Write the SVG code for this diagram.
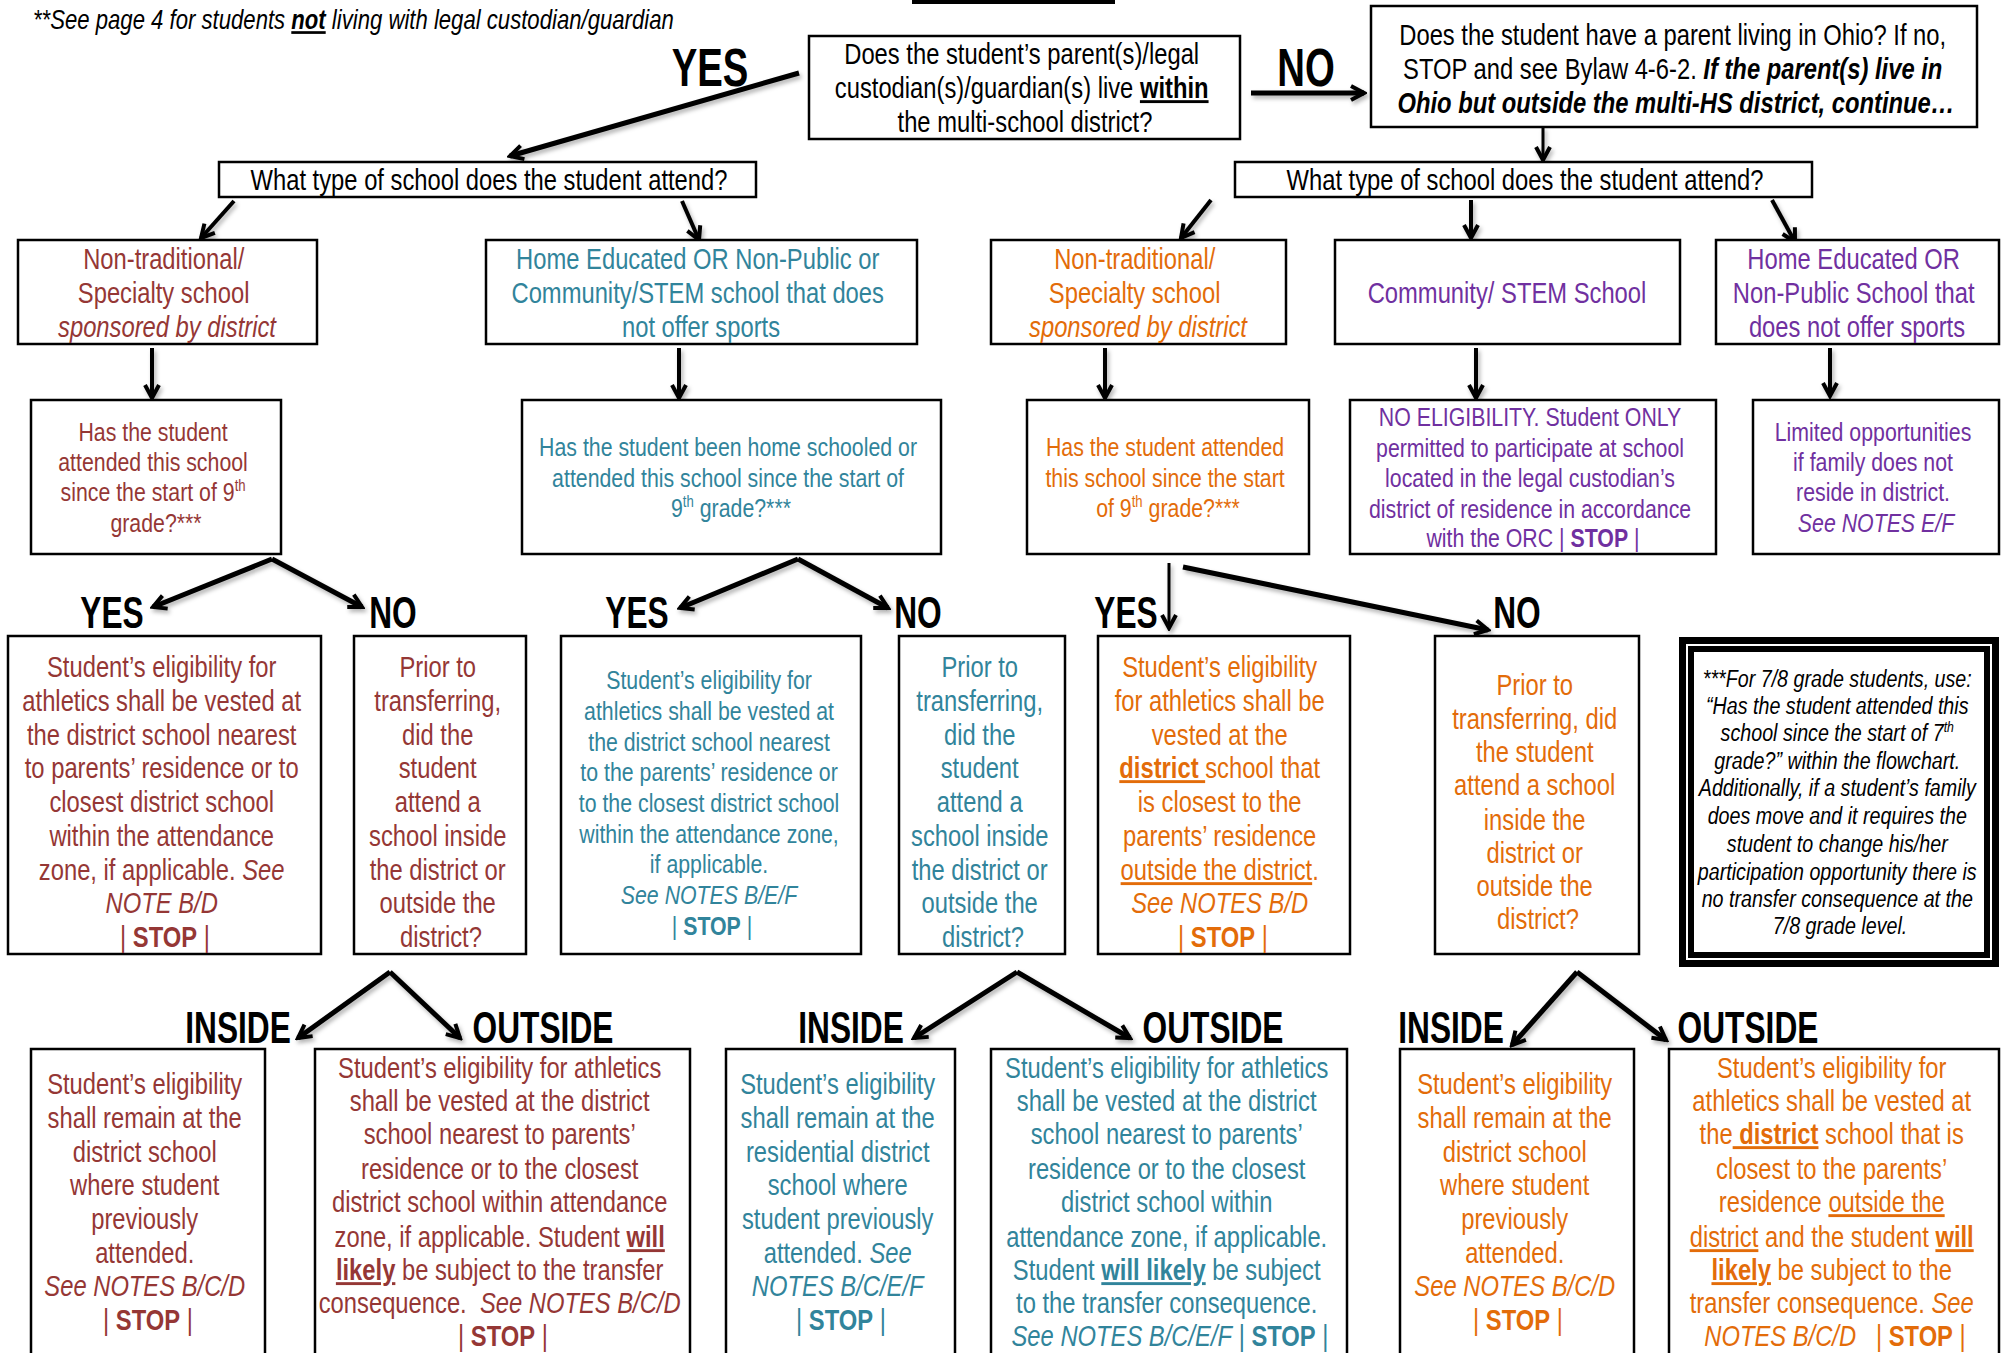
<svg xmlns="http://www.w3.org/2000/svg" width="2005" height="1353" viewBox="0 0 2005 1353">
<style>
.box{fill:#fff;stroke:#000;stroke-width:2.5}
.t{font-family:"Liberation Sans",Arial,sans-serif;font-size:29px;text-anchor:middle}
.s26{font-size:26px}
.s24{font-size:24px}
.m{fill:#953735}.tl{fill:#31849B}.o{fill:#E36C09}.p{fill:#7030A0}.k{fill:#000}
.i{font-style:italic}.b{font-weight:bold}.u{text-decoration:underline}
.lbl{font-family:"Liberation Sans",Arial,sans-serif;font-weight:bold;font-size:44px;text-anchor:middle;fill:#000}
.big{font-size:54px}
.arr{stroke:#000;stroke-width:4;fill:none;marker-end:url(#ah)}
.w5{stroke-width:5}
.w3{stroke-width:3}
</style>
<defs>
<marker id="ah" markerUnits="userSpaceOnUse" viewBox="0 0 20 20" markerWidth="20" markerHeight="20" refX="17" refY="10" orient="auto">
<path d="M4,3 L17,10 L4,17" fill="none" stroke="#000" stroke-width="4" stroke-linejoin="miter"/>
</marker>
<filter id="sh" x="-20%" y="-20%" width="140%" height="140%">
<feDropShadow dx="2" dy="3" stdDeviation="2" flood-color="#000" flood-opacity="0.3"/>
</filter>
</defs>
<rect width="2005" height="1353" fill="#fff"/>
<rect x="912" y="0" width="203" height="4" fill="#000"/>
<text class="t i k" style="text-anchor:start;font-size:27px" transform="translate(33 0) scale(0.82 1)"><tspan x="0" y="29">**See page 4 for students <tspan class="b u">not</tspan> living with legal custodian/guardian</tspan></text>

<g id="connectors" filter="url(#sh)">
<path class="arr w5" d="M799,73 L510,156"/>
<path class="arr w5" d="M1251,93 L1364,93"/>
<path class="arr w3" d="M1543,127 L1543,160"/>
<path class="arr" d="M234,201 L201,238"/>
<path class="arr" d="M682,201 L699,240"/>
<path class="arr" d="M1211,200 L1181,238"/>
<path class="arr" d="M1471,200 L1471,238"/>
<path class="arr" d="M1772,200 L1795,242"/>
<path class="arr" d="M152,348 L152,398"/>
<path class="arr" d="M679,348 L679,398"/>
<path class="arr" d="M1105,348 L1105,398"/>
<path class="arr" d="M1476,348 L1476,398"/>
<path class="arr" d="M1830,348 L1830,396"/>
<path class="arr w5" d="M272,559 L153,607"/>
<path class="arr w5" d="M272,559 L362,607"/>
<path class="arr w5" d="M798,559 L680,608"/>
<path class="arr w5" d="M798,559 L888,608"/>
<path class="arr w3" d="M1169,563 L1169,628"/>
<path class="arr w5" d="M1183,567 L1488,630"/>
<path class="arr w5" d="M390,972 L298,1038"/>
<path class="arr w5" d="M390,972 L460,1038"/>
<path class="arr w5" d="M1017,972 L914,1038"/>
<path class="arr w5" d="M1017,972 L1130,1038"/>
<path class="arr w5" d="M1577,972 L1512,1045"/>
<path class="arr w5" d="M1577,972 L1666,1040"/>
</g>

<g id="labels">
<text class="lbl big" transform="translate(710 0) scale(0.71 1)"><tspan x="0" y="86">YES</tspan></text>
<text class="lbl big" transform="translate(1306 0) scale(0.71 1)"><tspan x="0" y="86">NO</tspan></text>
<text class="lbl" transform="translate(112 0) scale(0.72 1)"><tspan x="0" y="628">YES</tspan></text>
<text class="lbl" transform="translate(393 0) scale(0.72 1)"><tspan x="0" y="628">NO</tspan></text>
<text class="lbl" transform="translate(637 0) scale(0.72 1)"><tspan x="0" y="628">YES</tspan></text>
<text class="lbl" transform="translate(918 0) scale(0.72 1)"><tspan x="0" y="628">NO</tspan></text>
<text class="lbl" transform="translate(1126 0) scale(0.72 1)"><tspan x="0" y="628">YES</tspan></text>
<text class="lbl" transform="translate(1517 0) scale(0.72 1)"><tspan x="0" y="628">NO</tspan></text>
<text class="lbl" transform="translate(238 0) scale(0.72 1)"><tspan x="0" y="1043">INSIDE</tspan></text>
<text class="lbl" transform="translate(543 0) scale(0.72 1)"><tspan x="0" y="1043">OUTSIDE</tspan></text>
<text class="lbl" transform="translate(851 0) scale(0.72 1)"><tspan x="0" y="1043">INSIDE</tspan></text>
<text class="lbl" transform="translate(1213 0) scale(0.72 1)"><tspan x="0" y="1043">OUTSIDE</tspan></text>
<text class="lbl" transform="translate(1451 0) scale(0.72 1)"><tspan x="0" y="1043">INSIDE</tspan></text>
<text class="lbl" transform="translate(1748 0) scale(0.72 1)"><tspan x="0" y="1043">OUTSIDE</tspan></text>
</g>

<g id="q1">
<rect class="box" x="809" y="36" width="431" height="103"/>
<text class="t k" transform="translate(1025 0) scale(0.82 1)">
<tspan x="0" y="64">Does the student’s parent(s)/legal</tspan>
<tspan x="0" y="98">custodian(s)/guardian(s) live <tspan class="b u">within</tspan></tspan>
<tspan x="0" y="132">the multi-school district?</tspan>
</text>
</g>

<g id="q2">
<rect class="box" x="1371" y="6" width="606" height="121"/>
<text class="t k" transform="translate(1676 0) scale(0.82 1)">
<tspan x="0" y="45">Does the student have a parent living in Ohio? If no,</tspan>
<tspan x="0" y="79">STOP and see Bylaw 4-6-2. <tspan class="b i">If the parent(s) live in</tspan></tspan>
<tspan x="0" y="113" class="b i">Ohio but outside the multi-HS district, continue…</tspan>
</text>
</g>

<g id="wt-left">
<rect class="box" x="219" y="162" width="537" height="35"/>
<text class="t k" transform="translate(489 0) scale(0.82 1)"><tspan x="0" y="190">What type of school does the student attend?</tspan></text>
</g>
<g id="wt-right">
<rect class="box" x="1235" y="162" width="577" height="35"/>
<text class="t k" transform="translate(1525 0) scale(0.82 1)"><tspan x="0" y="190">What type of school does the student attend?</tspan></text>
</g>

<g id="a1">
<rect class="box" x="18" y="240" width="299" height="104"/>
<text class="t m" transform="translate(167 0) scale(0.82 1)">
<tspan x="0" y="269">Non-traditional/</tspan>
<tspan x="0" y="303">Specialty school</tspan>
<tspan x="0" y="337" class="i">sponsored by district</tspan>
</text>
</g>
<g id="a2">
<rect class="box" x="486" y="240" width="431" height="104"/>
<text class="t tl" transform="translate(701 0) scale(0.82 1)">
<tspan x="0" y="269">Home Educated OR Non-Public or</tspan>
<tspan x="0" y="303">Community/STEM school that does</tspan>
<tspan x="0" y="337">not offer sports</tspan>
</text>
</g>
<g id="a3">
<rect class="box" x="991" y="240" width="295" height="104"/>
<text class="t o" transform="translate(1138 0) scale(0.82 1)">
<tspan x="0" y="269">Non-traditional/</tspan>
<tspan x="0" y="303">Specialty school</tspan>
<tspan x="0" y="337" class="i">sponsored by district</tspan>
</text>
</g>
<g id="a4">
<rect class="box" x="1335" y="240" width="345" height="104"/>
<text class="t p" transform="translate(1507 0) scale(0.82 1)"><tspan x="0" y="303">Community/ STEM School</tspan></text>
</g>
<g id="a5">
<rect class="box" x="1716" y="240" width="283" height="104"/>
<text class="t p" transform="translate(1857 0) scale(0.82 1)">
<tspan x="0" y="269">Home Educated OR</tspan>
<tspan x="0" y="303">Non-Public School that</tspan>
<tspan x="0" y="337">does not offer sports</tspan>
</text>
</g>

<g id="b1">
<rect class="box" x="31" y="400" width="250" height="154"/>
<text class="t s26 m" transform="translate(156 0) scale(0.82 1)">
<tspan x="0" y="441">Has the student</tspan>
<tspan x="0" y="471">attended this school</tspan>
<tspan x="0" y="501">since the start of 9<tspan font-size="16" dy="-10">th</tspan></tspan>
<tspan x="0" y="532">grade?***</tspan>
</text>
</g>
<g id="b2">
<rect class="box" x="522" y="400" width="419" height="154"/>
<text class="t s26 tl" transform="translate(731 0) scale(0.82 1)">
<tspan x="0" y="456">Has the student been home schooled or</tspan>
<tspan x="0" y="487">attended this school since the start of</tspan>
<tspan x="0" y="517">9<tspan font-size="16" dy="-10">th</tspan><tspan dy="10"> grade?***</tspan></tspan>
</text>
</g>
<g id="b3">
<rect class="box" x="1027" y="400" width="282" height="154"/>
<text class="t s26 o" transform="translate(1168 0) scale(0.82 1)">
<tspan x="0" y="456">Has the student attended</tspan>
<tspan x="0" y="487">this school since the start</tspan>
<tspan x="0" y="517">of 9<tspan font-size="16" dy="-10">th</tspan><tspan dy="10"> grade?***</tspan></tspan>
</text>
</g>
<g id="b4">
<rect class="box" x="1350" y="400" width="366" height="154"/>
<text class="t s26 p" transform="translate(1533 0) scale(0.82 1)">
<tspan x="0" y="426">NO ELIGIBILITY. Student ONLY</tspan>
<tspan x="0" y="457">permitted to participate at school</tspan>
<tspan x="0" y="487">located in the legal custodian’s</tspan>
<tspan x="0" y="518">district of residence in accordance</tspan>
<tspan x="0" y="547">with the ORC | <tspan class="b">STOP</tspan> |</tspan>
</text>
</g>
<g id="b5">
<rect class="box" x="1753" y="400" width="246" height="154"/>
<text class="t s26 p" transform="translate(1876 0) scale(0.82 1)">
<tspan x="0" y="441">Limited opportunities</tspan>
<tspan x="0" y="471">if family does not</tspan>
<tspan x="0" y="501">reside in district.</tspan>
<tspan x="0" y="532" class="i">See NOTES E/F</tspan>
</text>
</g>

<g id="c1">
<rect class="box" x="8" y="636" width="313" height="318"/>
<text class="t m" transform="translate(165 0) scale(0.82 1)">
<tspan x="0" y="677">Student’s eligibility for</tspan>
<tspan x="0" y="711">athletics shall be vested at</tspan>
<tspan x="0" y="745">the district school nearest</tspan>
<tspan x="0" y="778">to parents’ residence or to</tspan>
<tspan x="0" y="812">closest district school</tspan>
<tspan x="0" y="846">within the attendance</tspan>
<tspan x="0" y="880">zone, if applicable. <tspan class="i">See</tspan></tspan>
<tspan x="0" y="913" class="i">NOTE B/D</tspan>
<tspan x="0" y="947">| <tspan class="b">STOP</tspan> |</tspan>
</text>
</g>
<g id="c2">
<rect class="box" x="354" y="636" width="172" height="318"/>
<text class="t m" transform="translate(441 0) scale(0.82 1)">
<tspan x="0" y="677">Prior to</tspan>
<tspan x="0" y="711">transferring,</tspan>
<tspan x="0" y="745">did the</tspan>
<tspan x="0" y="778">student</tspan>
<tspan x="0" y="812">attend a</tspan>
<tspan x="0" y="846">school inside</tspan>
<tspan x="0" y="880">the district or</tspan>
<tspan x="0" y="913">outside the</tspan>
<tspan x="0" y="947">district?</tspan>
</text>
</g>
<g id="c3">
<rect class="box" x="561" y="636" width="300" height="318"/>
<text class="t s26 tl" transform="translate(712 0) scale(0.82 1)">
<tspan x="0" y="689">Student’s eligibility for</tspan>
<tspan x="0" y="720">athletics shall be vested at</tspan>
<tspan x="0" y="751">the district school nearest</tspan>
<tspan x="0" y="781">to the parents’ residence or</tspan>
<tspan x="0" y="812">to the closest district school</tspan>
<tspan x="0" y="843">within the attendance zone,</tspan>
<tspan x="0" y="873">if applicable.</tspan>
<tspan x="0" y="904" class="i">See NOTES B/E/F</tspan>
<tspan x="0" y="935">| <tspan class="b">STOP</tspan> |</tspan>
</text>
</g>
<g id="c4">
<rect class="box" x="899" y="636" width="166" height="318"/>
<text class="t tl" transform="translate(983 0) scale(0.82 1)">
<tspan x="0" y="677">Prior to</tspan>
<tspan x="0" y="711">transferring,</tspan>
<tspan x="0" y="745">did the</tspan>
<tspan x="0" y="778">student</tspan>
<tspan x="0" y="812">attend a</tspan>
<tspan x="0" y="846">school inside</tspan>
<tspan x="0" y="880">the district or</tspan>
<tspan x="0" y="913">outside the</tspan>
<tspan x="0" y="947">district?</tspan>
</text>
</g>
<g id="c5">
<rect class="box" x="1098" y="636" width="252" height="318"/>
<text class="t o" transform="translate(1223 0) scale(0.82 1)">
<tspan x="0" y="677">Student’s eligibility</tspan>
<tspan x="0" y="711">for athletics shall be</tspan>
<tspan x="0" y="745">vested at the</tspan>
<tspan x="0" y="778"><tspan class="b u">district </tspan>school that</tspan>
<tspan x="0" y="812">is closest to the</tspan>
<tspan x="0" y="846">parents’ residence</tspan>
<tspan x="0" y="880"><tspan class="u">outside the district</tspan>.</tspan>
<tspan x="0" y="913" class="i">See NOTES B/D</tspan>
<tspan x="0" y="947">| <tspan class="b">STOP</tspan> |</tspan>
</text>
</g>
<g id="c6">
<rect class="box" x="1435" y="636" width="204" height="318"/>
<text class="t o" transform="translate(1538 0) scale(0.82 1)">
<tspan x="0" y="695">Prior to</tspan>
<tspan x="0" y="729">transferring, did</tspan>
<tspan x="0" y="762">the student</tspan>
<tspan x="0" y="795">attend a school</tspan>
<tspan x="0" y="830">inside the</tspan>
<tspan x="0" y="863">district or</tspan>
<tspan x="0" y="896">outside the</tspan>
<tspan x="0" y="929">district?</tspan>
</text>
</g>
<g id="notes">
<rect x="1682.5" y="640.5" width="313" height="323" fill="none" stroke="#000" stroke-width="7"/>
<rect x="1691" y="649" width="296" height="306" fill="#fff" stroke="#000" stroke-width="6"/>
<text class="t s24 i k" transform="translate(1840 0) scale(0.82 1)">
<tspan x="0" y="687">***For 7/8 grade students, use:</tspan>
<tspan x="0" y="714">“Has the student attended this</tspan>
<tspan x="0" y="741">school since the start of 7<tspan font-size="15" dy="-9">th</tspan></tspan>
<tspan x="0" y="769">grade?” within the flowchart.</tspan>
<tspan x="0" y="796">Additionally, if a student’s family</tspan>
<tspan x="0" y="824">does move and it requires the</tspan>
<tspan x="0" y="852">student to change his/her</tspan>
<tspan x="0" y="880">participation opportunity there is</tspan>
<tspan x="0" y="907">no transfer consequence at the</tspan>
<tspan x="0" y="934">7/8 grade level.</tspan>
</text>
</g>

<g id="d1">
<rect class="box" x="31" y="1049" width="234" height="320"/>
<text class="t m" transform="translate(148 0) scale(0.82 1)">
<tspan x="0" y="1094">Student’s eligibility</tspan>
<tspan x="0" y="1128">shall remain at the</tspan>
<tspan x="0" y="1162">district school</tspan>
<tspan x="0" y="1195">where student</tspan>
<tspan x="0" y="1229">previously</tspan>
<tspan x="0" y="1263">attended.</tspan>
<tspan x="0" y="1296" class="i">See NOTES B/C/D</tspan>
<tspan x="0" y="1330">| <tspan class="b">STOP</tspan> |</tspan>
</text>
</g>
<g id="d2">
<rect class="box" x="315" y="1049" width="375" height="320"/>
<text class="t m" transform="translate(503 0) scale(0.82 1)">
<tspan x="0" y="1078">Student’s eligibility for athletics</tspan>
<tspan x="0" y="1111">shall be vested at the district</tspan>
<tspan x="0" y="1144">school nearest to parents’</tspan>
<tspan x="0" y="1179">residence or to the closest</tspan>
<tspan x="0" y="1212">district school within attendance</tspan>
<tspan x="0" y="1247">zone, if applicable. Student <tspan class="b u">will</tspan></tspan>
<tspan x="0" y="1280"><tspan class="b u">likely</tspan> be subject to the transfer</tspan>
<tspan x="0" y="1313">consequence.&#160; <tspan class="i">See NOTES B/C/D</tspan></tspan>
<tspan x="0" y="1346">| <tspan class="b">STOP</tspan> |</tspan>
</text>
</g>
<g id="d3">
<rect class="box" x="726" y="1049" width="229" height="320"/>
<text class="t tl" transform="translate(841 0) scale(0.82 1)">
<tspan x="0" y="1094">Student’s eligibility</tspan>
<tspan x="0" y="1128">shall remain at the</tspan>
<tspan x="0" y="1162">residential district</tspan>
<tspan x="0" y="1195">school where</tspan>
<tspan x="0" y="1229">student previously</tspan>
<tspan x="0" y="1263">attended. <tspan class="i">See</tspan></tspan>
<tspan x="0" y="1296" class="i">NOTES B/C/E/F</tspan>
<tspan x="0" y="1330">| <tspan class="b">STOP</tspan> |</tspan>
</text>
</g>
<g id="d4">
<rect class="box" x="991" y="1049" width="356" height="320"/>
<text class="t tl" transform="translate(1170 0) scale(0.82 1)">
<tspan x="0" y="1078">Student’s eligibility for athletics</tspan>
<tspan x="0" y="1111">shall be vested at the district</tspan>
<tspan x="0" y="1144">school nearest to parents’</tspan>
<tspan x="0" y="1179">residence or to the closest</tspan>
<tspan x="0" y="1212">district school within</tspan>
<tspan x="0" y="1247">attendance zone, if applicable.</tspan>
<tspan x="0" y="1280">Student <tspan class="b u">will likely</tspan> be subject</tspan>
<tspan x="0" y="1313">to the transfer consequence.</tspan>
<tspan x="0" y="1346"><tspan class="i">See NOTES B/C/E/F</tspan> | <tspan class="b">STOP</tspan> |</tspan>
</text>
</g>
<g id="d5">
<rect class="box" x="1400" y="1049" width="234" height="320"/>
<text class="t o" transform="translate(1518 0) scale(0.82 1)">
<tspan x="0" y="1094">Student’s eligibility</tspan>
<tspan x="0" y="1128">shall remain at the</tspan>
<tspan x="0" y="1162">district school</tspan>
<tspan x="0" y="1195">where student</tspan>
<tspan x="0" y="1229">previously</tspan>
<tspan x="0" y="1263">attended.</tspan>
<tspan x="0" y="1296" class="i">See NOTES B/C/D</tspan>
<tspan x="0" y="1330">| <tspan class="b">STOP</tspan> |</tspan>
</text>
</g>
<g id="d6">
<rect class="box" x="1669" y="1049" width="330" height="320"/>
<text class="t o" transform="translate(1835 0) scale(0.82 1)">
<tspan x="0" y="1078">Student’s eligibility for</tspan>
<tspan x="0" y="1111">athletics shall be vested at</tspan>
<tspan x="0" y="1144">the<tspan class="b u"> district</tspan> school that is</tspan>
<tspan x="0" y="1179">closest to the parents’</tspan>
<tspan x="0" y="1212">residence <tspan class="u">outside the</tspan></tspan>
<tspan x="0" y="1247"><tspan class="u">district</tspan> and the student <tspan class="b u">will</tspan></tspan>
<tspan x="0" y="1280"><tspan class="b u">likely</tspan> be subject to the</tspan>
<tspan x="0" y="1313">transfer consequence. <tspan class="i">See</tspan></tspan>
<tspan x="0" y="1346"><tspan class="i">NOTES B/C/D</tspan>&#160;&#160; | <tspan class="b">STOP</tspan> |</tspan>
</text>
</g>
</svg>
